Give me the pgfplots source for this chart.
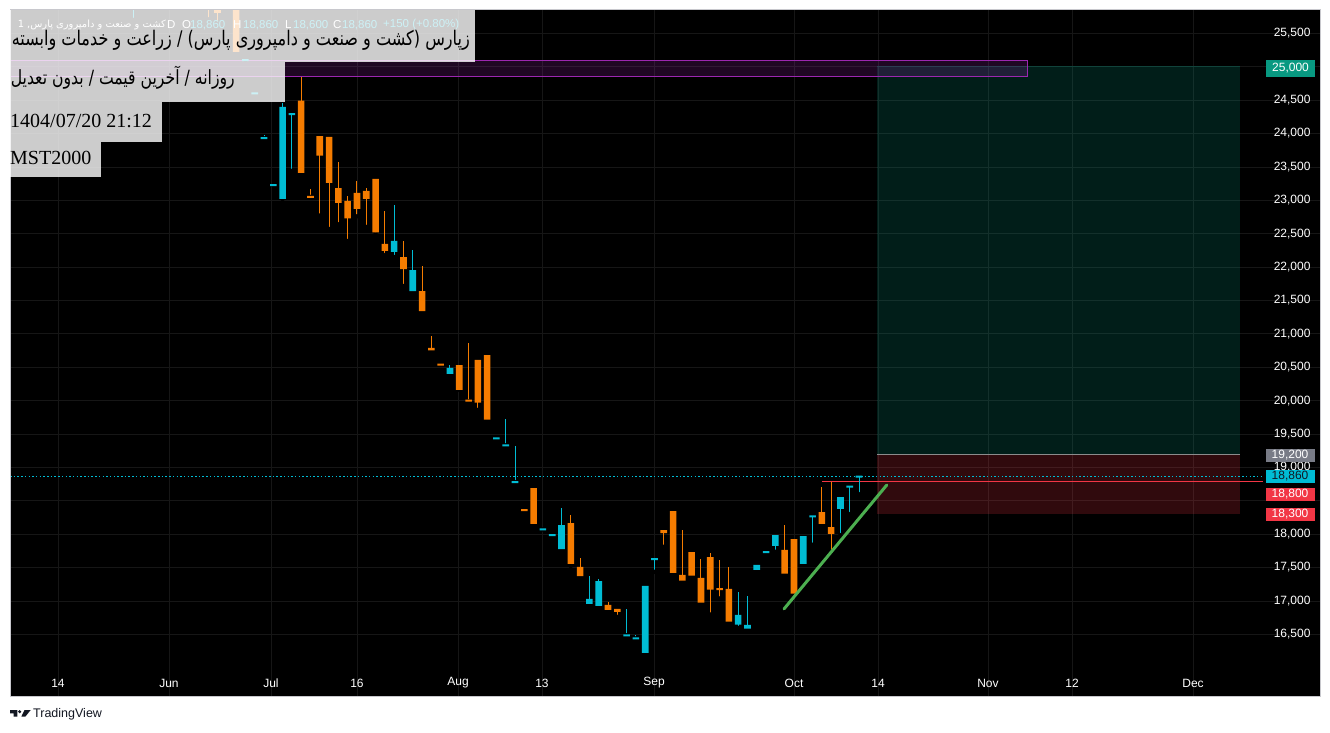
\documentclass[border=0pt]{standalone}
\usepackage{fontspec}
\usepackage{graphicx}
\usepackage{pgfplots}
\usepackage{pgfplotstable}
\pgfplotsset{compat=1.18}
\setmainfont{Liberation Sans}
\newfontfamily\serif{Liberation Serif}
\newfontfamily\fa[Script=Arabic]{DejaVu Sans}
\TeXXeTstate=1

\definecolor{tvcyan}{HTML}{00BCD4}
\definecolor{tvorange}{HTML}{F57C00}
\definecolor{tvred}{HTML}{F23645}
\definecolor{tvteal}{HTML}{089981}
\definecolor{tvgray}{HTML}{787B86}
\definecolor{tvpurple}{HTML}{9C27B0}
\definecolor{tvgreen}{HTML}{4CAF50}
\definecolor{tvdark}{HTML}{131722}
\definecolor{gridc}{HTML}{161616}
\definecolor{entryc}{HTML}{8C8C8C}
\definecolor{framec}{HTML}{C8C8CD}

% daily candles: bar index, open, high, low, close, u (1 = cyan, 0 = orange)
\pgfplotstableread{
i O H L C u
-14 25900 26100 25700 26000 1
-6 26100 26200 25710 25950 0
-5 26000 26050 25655 25805 0
-3 26100 26150 25220 25220 0
-2 25100 25100 25100 25100 1
-1 24600 24600 24600 24600 1
0 23930 23980 23930 23930 1
1 23225 23225 23225 23225 1
2 23020 24460 23020 24400 1
3 24290 24290 23440 24290 1
4 24490 24850 23410 23410 0
5 23050 23170 23050 23050 0
6 23960 23960 22770 23670 0
7 23950 23950 22570 23260 0
8 23180 23570 22640 22960 0
9 22990 23060 22390 22730 0
10 23110 23290 22760 22870 0
11 23140 23180 22600 23020 0
12 23320 23320 22490 22520 0
13 22345 22840 22180 22240 0
14 22225 22930 22150 22390 1
15 22150 22390 21715 21970 0
16 21640 22255 21640 21955 1
17 21640 22015 21340 21340 0
18 20790 20970 20750 20750 0
19 20540 20540 20540 20540 0
20 20400 20530 20400 20490 1
21 20530 20530 20160 20160 0
22 20010 20860 19985 19985 0
23 20610 20610 19860 19970 0
24 20680 20680 19715 19715 0
25 19435 19435 19435 19435 1
26 19330 19725 19330 19330 1
27 18780 19320 18780 18780 1
28 18360 18360 18360 18360 0
29 18690 18690 18155 18155 0
30 18070 18070 18070 18070 1
31 17985 17985 17985 17985 1
32 17775 18390 17775 18135 1
33 18165 18285 17525 17555 0
34 17510 17645 17370 17370 0
35 16955 17370 16955 17030 1
36 16925 17325 16925 17295 1
37 16940 16985 16865 16865 0
38 16880 16880 16760 16835 0
39 16485 16880 16485 16485 1
40 16440 16490 16440 16440 1
41 16220 17225 16220 17225 1
42 17625 17625 17435 17625 1
43 18060 18060 17810 18015 0
44 18345 18345 17390 17420 0
45 17390 18060 17305 17305 0
46 17730 17730 17380 17380 0
47 17345 17625 16975 16975 0
48 17655 17715 16795 17170 0
49 17175 17615 17035 17175 0
50 17180 17510 16690 16690 0
51 16645 17135 16595 16790 1
52 16585 17075 16585 16640 1
53 17465 17540 17465 17540 1
54 17730 17730 17730 17730 1
55 17825 17985 17735 17985 1
56 17765 18135 17410 17410 0
57 17925 17925 17110 17110 0
58 17555 17970 17555 17970 1
59 18265 18265 17840 18265 1
60 18330 18705 18125 18155 0
61 18105 18780 17735 18005 0
62 18380 18555 17985 18555 1
63 18710 18710 18300 18710 1
64 18860 18860 18600 18860 1
}\allT

\pgfplotsset{
  chartframe/.style={
    at={(10pt,36pt)}, anchor=south west,
    scale only axis, width=1310pt, height=686pt,
    xmin=-27.32, xmax=113.58, ymin=15576, ymax=25849, clip=true},
}

\begin{document}
\begin{tikzpicture}[x=1pt,y=1pt]
\useasboundingbox (0,0) rectangle (1330,732);
\fill[white] (0,0) rectangle (1330,732);
\fill[black] (10,36) rectangle (1320,722);
% ---- axis 1: background, grid, zones, lines, wicks
\begin{axis}[
  chartframe,
  axis background/.style={fill=black},
  axis line style={draw=none},
  major tick length=0pt,
  grid=major, major grid style={draw=gridc, line width=0.7pt},
  xtick={-22.16,-10.22,0.75,10.0,20.87,29.9,41.95,57.01,66.04,77.87,86.91,99.92},
  xticklabels={14,Jun,Jul,16,Aug,13,Sep,Oct,14,Nov,12,Dec},
  ytick={16500,17000,17500,18000,19000,19500,20000,20500,21000,21500,22000,22500,23000,23500,24000,24500,25000,25500},
  extra y ticks={18500}, extra y tick labels={},
  yticklabel pos=right,
  scaled y ticks=false,
  /pgf/number format/.cd, 1000 sep={,}, assume math mode=true,
  /pgfplots/.cd,
  yticklabel style={anchor=east, xshift=-6pt, text=white, font=\fontsize{12}{14}\selectfont},
  xticklabel style={anchor=center, yshift=13pt, text=white, font=\fontsize{12}{14}\selectfont},
]
\addplot[draw=none, fill=tvteal, fill opacity=0.2, forget plot]
  coordinates {(65.94,19200) (104.98,19200) (104.98,25000) (65.94,25000)} --cycle;
\addplot[draw=tvteal, draw opacity=0.35, line width=1pt, forget plot]
  coordinates {(65.94,25000) (104.98,25000)};
\addplot[draw=none, fill=tvred, fill opacity=0.2, forget plot]
  coordinates {(65.94,18300) (104.98,18300) (104.98,19200) (65.94,19200)} --cycle;
\addplot[draw=entryc, line width=1pt, forget plot]
  coordinates {(65.94,19200) (104.98,19200)};
\addplot[draw=tvpurple, line width=0.8pt, fill=tvpurple, fill opacity=0.2, forget plot]
  coordinates {(-27.32,24850) (82.07,24850) (82.07,25090) (-27.32,25090)} --cycle;
\addplot[draw=tvcyan, line width=1pt, dash pattern=on 1.5pt off 2.2pt, forget plot]
  coordinates {(-27.32,18860) (107.4,18860)};
\addplot[draw=tvred, line width=1.5pt, forget plot]
  coordinates {(60.0,18790) (107.4,18790)};
% wicks
\addplot[only marks, mark=none, forget plot,
    restrict expr to domain={\thisrow{u}}{0.5:1.5},
    error bars/.cd, y dir=plus, y explicit, error mark=none,
    error bar style={draw=tvcyan, line width=1pt}]
  table[x=i, y=L, y error plus expr={\thisrow{H}-\thisrow{L}}] {\allT};
\addplot[only marks, mark=none, forget plot,
    restrict expr to domain={\thisrow{u}}{-0.5:0.5},
    error bars/.cd, y dir=plus, y explicit, error mark=none,
    error bar style={draw=tvorange, line width=1pt}]
  table[x=i, y=L, y error plus expr={\thisrow{H}-\thisrow{L}}] {\allT};
\end{axis}
% ---- axis 2: candle bodies (stacked bars: hidden base, cyan body, orange body)
\begin{axis}[chartframe, hide axis, ybar stacked, bar width=6.6pt]
\addplot[draw=none, fill=none]
  table[x=i, y expr={min(\thisrow{O},\thisrow{C})-max(0,30-abs(\thisrow{C}-\thisrow{O}))/2}] {\allT};
\addplot[draw=none, fill=tvcyan]
  table[x=i, y expr={\thisrow{u}*max(abs(\thisrow{C}-\thisrow{O}),30)}] {\allT};
\addplot[draw=none, fill=tvorange]
  table[x=i, y expr={(1-\thisrow{u})*max(abs(\thisrow{C}-\thisrow{O}),30)}] {\allT};
\end{axis}
% ---- axis 3: trend line
\begin{axis}[chartframe, hide axis]
\addplot[draw=tvgreen, line width=3pt, line cap=round]
  coordinates {(55.93,16880) (66.98,18735)};
\end{axis}
\draw[framec, line width=1pt] (10,36) rectangle (1320,722);

\begin{scope}[shift={(0,732)}, y=-1pt]
  % legend row (under the overlay boxes)
  \node[anchor=east, inner sep=0, text=white] at (166,25)
    {\resizebox{148pt}{!}{\fa\beginR کشت و صنعت و دامپروری پارس, 1\endR}};
  \begin{scope}[every node/.style={anchor=west, inner sep=0, font=\fontsize{11.5}{13}\selectfont}]
    \node[text=white] at (167,25) {D};
    \node[text=white] at (182,25) {O};
    \node[text=tvcyan] at (190,25) {18,860};
    \node[text=white] at (233,25) {H};
    \node[text=tvcyan] at (243,25) {18,860};
    \node[text=white] at (285,25) {L};
    \node[text=tvcyan] at (293,25) {18,600};
    \node[text=white] at (333,25) {C};
    \node[text=tvcyan] at (342,25) {18,860};
    \node[text=tvcyan] at (383,25) {+150 (+0.80\%)};
  \end{scope}
  % overlay boxes
  \fill[white, opacity=0.8] (10,10) rectangle (475,62);
  \fill[white, opacity=0.8] (10,62) rectangle (285,102);
  \fill[white, opacity=0.8] (10,102) rectangle (162,142);
  \fill[white, opacity=0.8] (10,142) rectangle (101,177);
  \node[anchor=east, inner sep=0] at (470,40)
    {\scalebox{1}[1.25]{\resizebox{458pt}{!}{\fa\beginR زپارس (کشت و صنعت و دامپروری پارس) / زراعت و خدمات وابسته\endR}}};
  \node[anchor=east, inner sep=0] at (235,78)
    {\scalebox{1}[1.25]{\resizebox{224pt}{!}{\fa\beginR روزانه / آخرین قیمت / بدون تعدیل\endR}}};
  \node[anchor=west, inner sep=0, font=\serif\fontsize{20}{24}\selectfont] at (10,121) {1404/07/20 21:12};
  \node[anchor=west, inner sep=0, font=\serif\fontsize{20}{24}\selectfont] at (10,158) {MST2000};
  % price scale labels
  \begin{scope}[every node/.style={inner sep=0, minimum width=49pt, font=\fontsize{12}{14}\selectfont}]
    \node[fill=tvteal, text=white, minimum height=17pt] at (1290.5,68.5) {25,000};
    \node[fill=tvgray, text=white, minimum height=13pt] at (1290,455) {19,200};
    \node[fill=tvcyan, text=tvdark, minimum height=13pt] at (1290,476.5) {18,860};
    \node[fill=tvred, text=white, minimum height=13pt] at (1290,494) {18,800};
    \node[fill=tvred, text=white, minimum height=13pt] at (1290,514) {18,300};
  \end{scope}
  % TradingView logo
  \fill[tvdark] (10,710) -- (17.3,710) -- (17.3,716.7) -- (13.6,716.7) -- (13.6,713.3) -- (10,713.3) -- cycle;
  \fill[tvdark] (19.7,711.7) circle (1.7);
  \fill[tvdark] (24.5,710) -- (30.7,710) -- (25.3,716.7) -- (21.3,716.7) -- cycle;
  \node[anchor=west, inner sep=0, text=tvdark, font=\fontsize{12.5}{14}\selectfont] at (33,714) {TradingView};
\end{scope}
\end{tikzpicture}
\end{document}
